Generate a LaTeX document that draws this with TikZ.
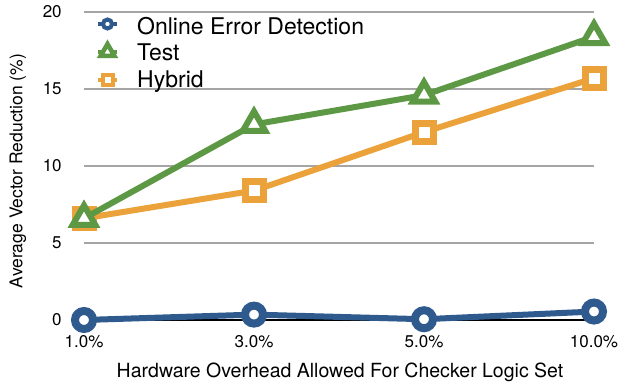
\documentclass[tikz,border=0pt]{standalone}
\usepackage{fontspec}
\setmainfont{TeX Gyre Heros}
\usetikzlibrary{shapes.geometric}
\definecolor{onlineblue}{RGB}{46,90,142}
\definecolor{testgreen}{RGB}{93,153,69}
\definecolor{hybridorange}{RGB}{235,162,58}
\definecolor{gridgray}{RGB}{165,165,165}

\begin{document}
\begin{tikzpicture}[x=1pt,y=1pt,
    ticklabel/.style={font=\fontsize{17}{20}\selectfont, inner sep=0pt},
    legendtext/.style={font=\fontsize{23}{25}\selectfont, anchor=base west, inner sep=0pt},
    circmark/.style={circle, draw=onlineblue, fill=white, line width=8pt, minimum size=18pt, inner sep=0pt},
    trimark/.style={regular polygon, regular polygon sides=3, draw=testgreen, fill=white, line width=6pt, minimum size=26pt, inner sep=0pt},
    sqmark/.style={rectangle, draw=hybridorange, fill=white, line width=7pt, minimum size=18pt, inner sep=0pt},
    series/.style={line width=6pt, line join=round}]
  \useasboundingbox (0,0) rectangle (623,385);

  % grid and axis
  \begin{scope}[shift={(84,65)}, x=170pt, y=15.4pt]
    \foreach \v in {5,10,15,20}
      \draw[gridgray, line width=1.5pt] (0,\v) -- (3.0,\v);
    \draw[black, line width=1.5pt] (0,0) -- (3.0,0);
    \foreach \v in {0,5,10,15,20}
      \node[ticklabel, anchor=east] (ytick\v) at (-0.13,\v) {\v};
    \node[ticklabel] (xtick1) at (0,-1.4) {1.0\%};
    \node[ticklabel] (xtick2) at (1,-1.4) {3.0\%};
    \node[ticklabel] (xtick3) at (2,-1.4) {5.0\%};
    \node[ticklabel] (xtick4) at (3,-1.4) {10.0\%};

    % data points
    \coordinate (h1) at (0,6.6);  \coordinate (h2) at (1,8.4);
    \coordinate (h3) at (2,12.2); \coordinate (h4) at (3,15.7);
    \coordinate (t1) at (0,6.6);  \coordinate (t2) at (1,12.7);
    \coordinate (t3) at (2,14.6); \coordinate (t4) at (3,18.4);
    \coordinate (o1) at (0,0);    \coordinate (o2) at (1,0.35);
    \coordinate (o3) at (2,0.05); \coordinate (o4) at (3,0.55);
  \end{scope}

  % Hybrid
  \draw[series, hybridorange] (h1) -- (h2) -- (h3) -- (h4);
  \foreach \i in {1,...,4}
    \node[sqmark] (hm\i) at (h\i) {};
  % Test
  \draw[series, testgreen] (t1) -- (t2) -- (t3) -- (t4);
  \foreach \i in {1,...,4}
    \node[trimark] (tm\i) at (t\i) {};
  % Online Error Detection
  \draw[series, onlineblue] (o1) -- (o2) -- (o3) -- (o4);
  \foreach \i in {1,...,4}
    \node[circmark] (om\i) at (o\i) {};

  % axis titles
  \node[font=\fontsize{19.5}{22}\selectfont, inner sep=0pt] (xtitle) at (340,13) {Hardware Overhead Allowed For Checker Logic Set};
  \node[font=\fontsize{17.5}{20}\selectfont, inner sep=0pt, rotate=90] (ytitle) at (18,214) {Average Vector Reduction (\%)};

  % legend
  \coordinate (la) at (98,361);  \coordinate (lb) at (117,361);
  \coordinate (lc) at (98,333);  \coordinate (ld) at (117,333);
  \coordinate (le) at (98,305);  \coordinate (lf) at (117,305);
  \draw[onlineblue, line width=4pt] (la) -- (lb);
  \node[circmark, line width=4pt, minimum size=9pt] (lgo) at (107.5,361) {};
  \draw[testgreen, line width=4pt] (lc) -- (ld);
  \node[trimark, line width=4.5pt, minimum size=16pt] (lgt) at (107.5,333) {};
  \draw[hybridorange, line width=4pt] (le) -- (lf);
  \node[sqmark, line width=4pt, minimum size=10pt] (lgh) at (107.5,305) {};
  \node[legendtext] (lto) at (137,350) {Online Error Detection};
  \node[legendtext] (ltt) at (137,324) {Test};
  \node[legendtext] (lth) at (137,297) {Hybrid};
\end{tikzpicture}
\end{document}
